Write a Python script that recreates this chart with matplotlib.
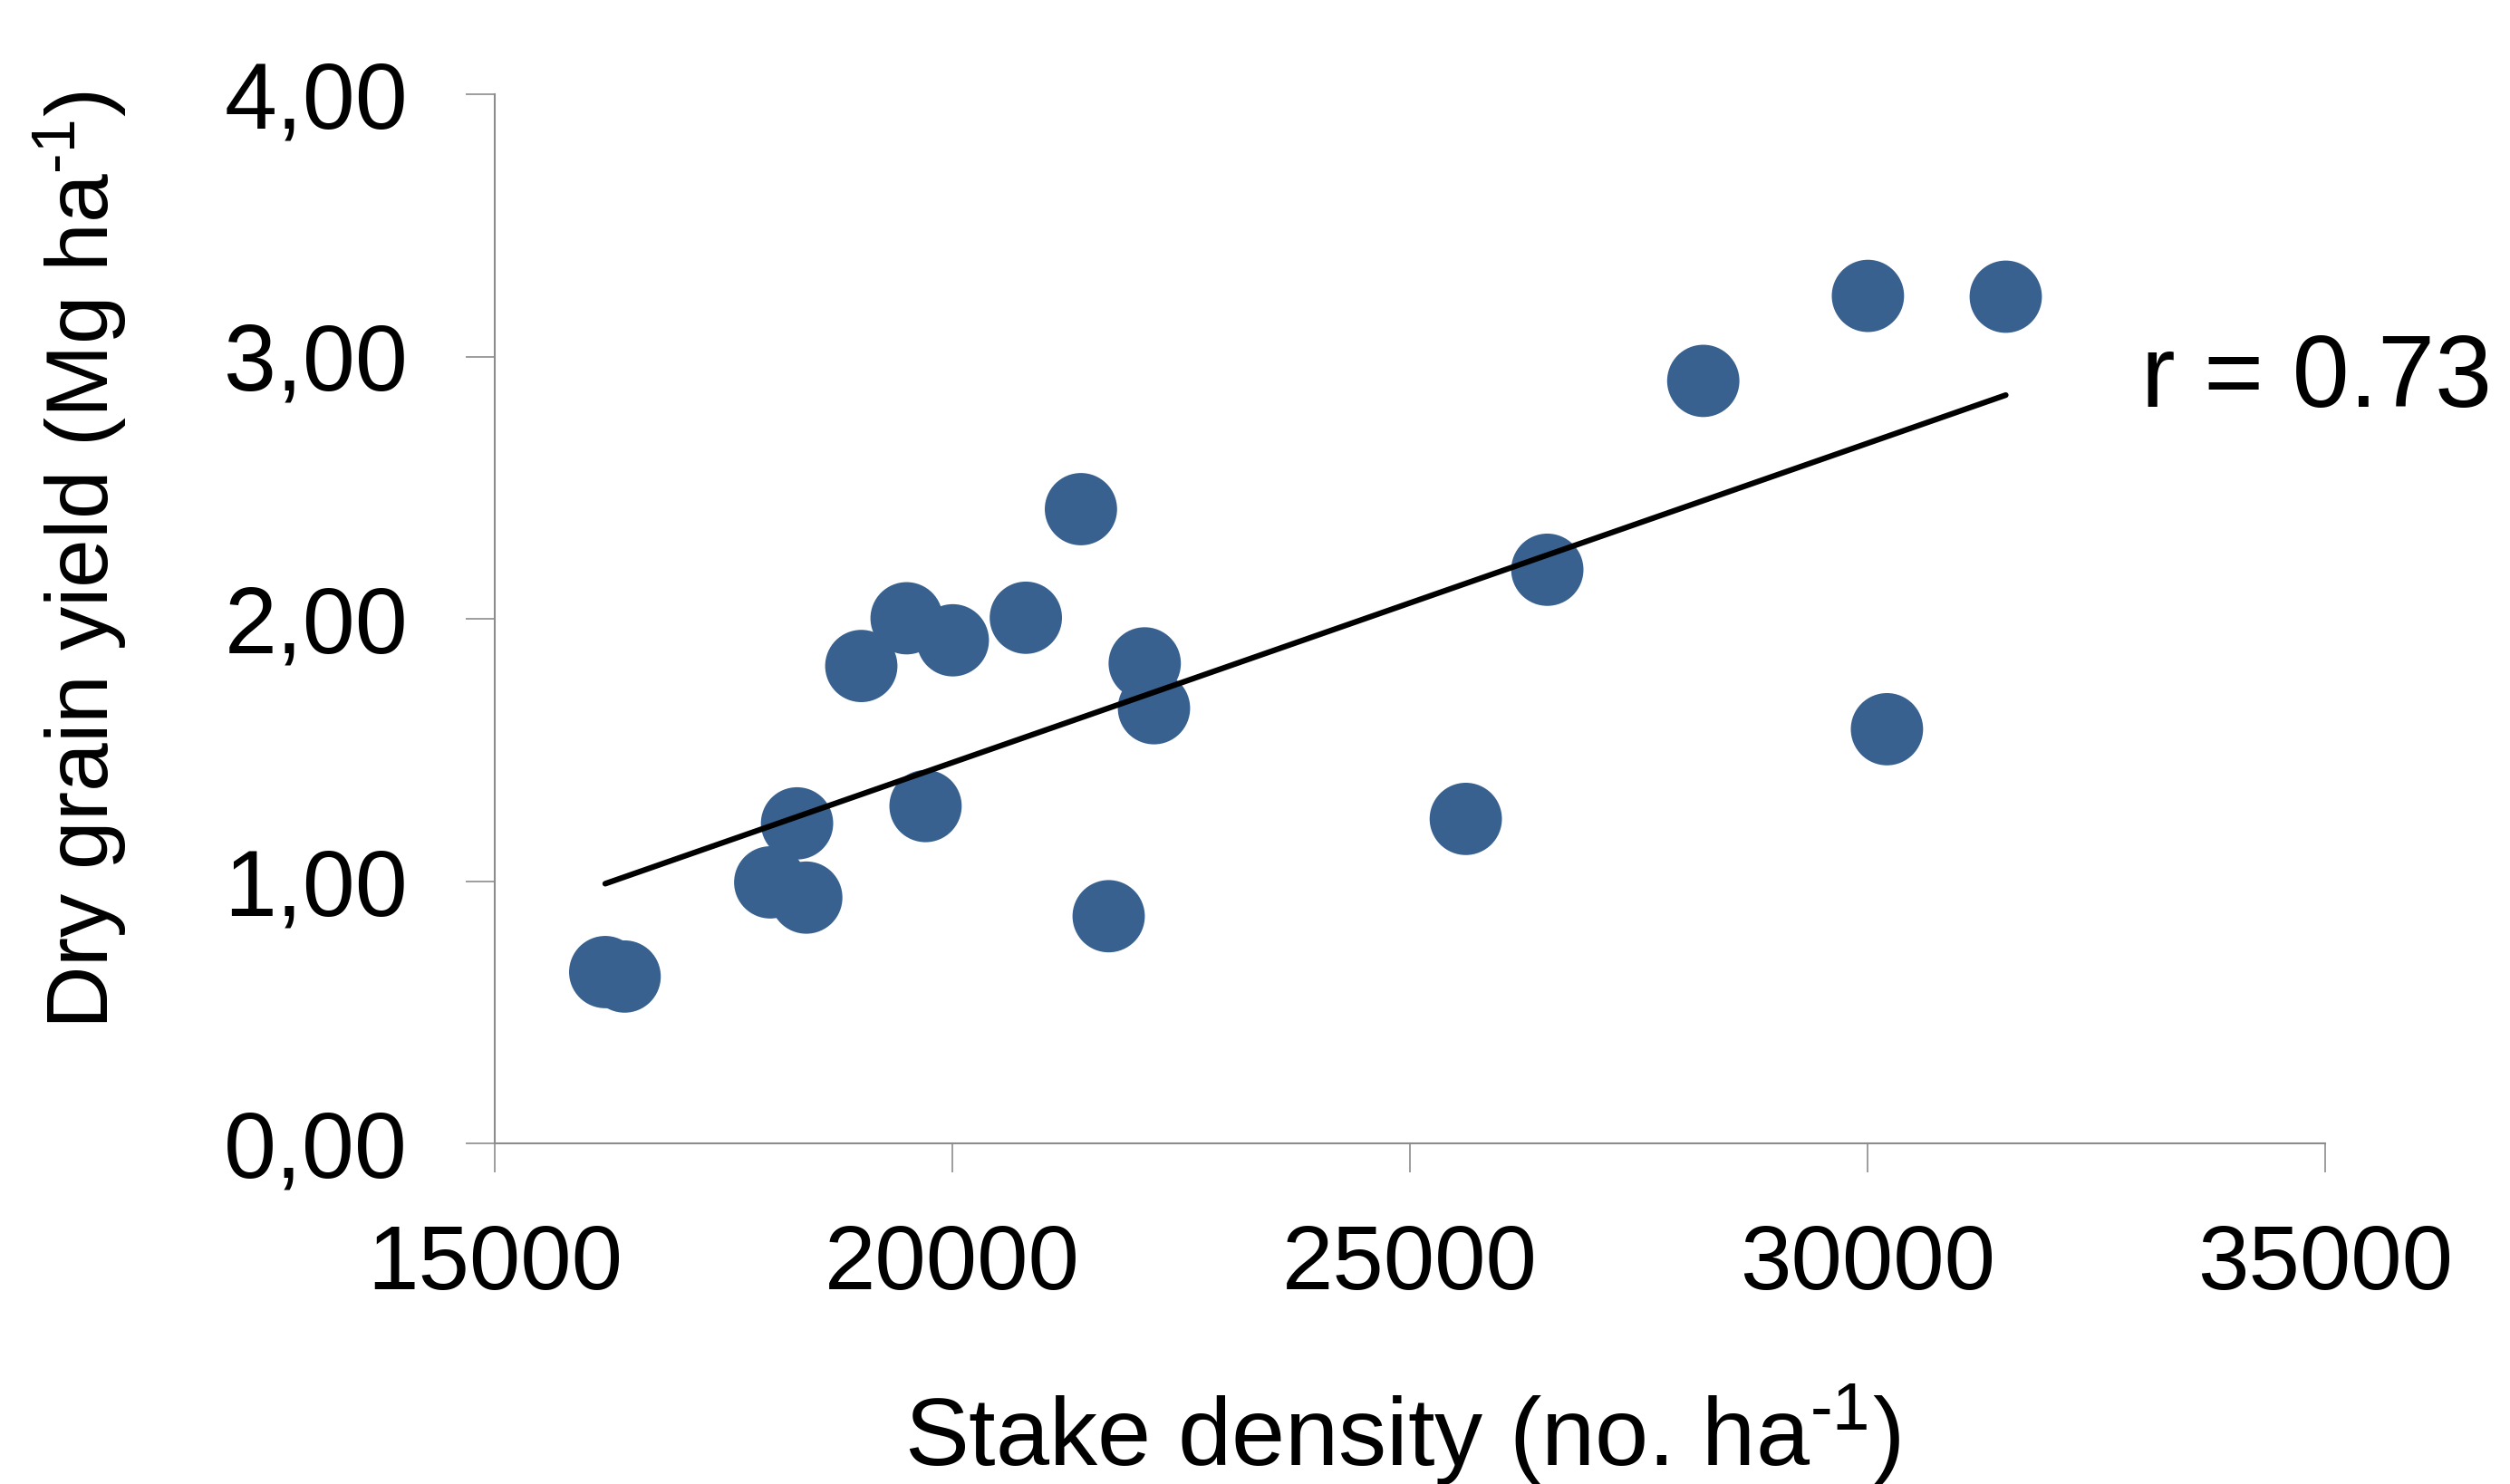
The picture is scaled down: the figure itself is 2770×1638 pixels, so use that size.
import matplotlib
matplotlib.use("Agg")
import matplotlib.pyplot as plt
import numpy as np

plt.rcParams["font.family"] = ["Liberation Sans", "DejaVu Sans"]
plt.rcParams["mathtext.fontset"] = "custom"
plt.rcParams["mathtext.rm"] = "Liberation Sans"
plt.rcParams["mathtext.default"] = "regular"

# stake density (no. ha-1) and dry grain yield (Mg ha-1)
density = [16207, 16419, 18303, 18010, 18404, 19005, 19500, 20005, 20803, 21405,
           19707, 22102, 22203, 21708, 30004, 31510, 28205, 26501, 30212, 25610]
grain_yield = [0.653, 0.636, 1.220, 0.995, 0.937, 1.820, 2.002, 1.918, 2.004, 2.418,
               1.286, 1.830, 1.659, 0.866, 3.231, 3.228, 2.907, 2.187, 1.579, 1.237]

xticks = [15000, 20000, 25000, 30000, 35000]
yticks = [0, 1, 2, 3, 4]
ytick_labels = ["0,00", "1,00", "2,00", "3,00", "4,00"]
r_value = 0.73

W, H = 2770, 1638
fig = plt.figure(figsize=(W / 100, H / 100), dpi=100)
ax = fig.add_axes([546 / W, 1 - 1262 / H, (2566 - 546) / W, (1262 - 104) / H])

x = np.array(density)
y = np.array(grain_yield)
ax.scatter(x, y, s=3300, color="#386190", edgecolors="none", zorder=2)

slope, icpt = np.polyfit(x, y, 1)
xs = np.array([x.min(), x.max()])
ax.plot(xs, slope * xs + icpt, color="black", lw=4.5, solid_capstyle="round", zorder=3)

ax.set_xlim(15000, 35000)
ax.set_ylim(0, 4)
ax.set_xticks(xticks)
ax.set_xticklabels([str(t) for t in xticks])
ax.set_yticks(yticks)
ax.set_yticklabels(ytick_labels)

for side in ["top", "right"]:
    ax.spines[side].set_visible(False)
for side in ["left", "bottom"]:
    ax.spines[side].set_color("#8c8c8c")
    ax.spines[side].set_linewidth(1.5)

ax.tick_params(axis="both", direction="out", length=23, width=1.2, color="#8c8c8c")
ax.tick_params(axis="y", pad=46, labelsize=75)
ax.tick_params(axis="x", pad=40, labelsize=73)

fig.text(0.5585, 0.012, r"Stake density (no. ha$^{\text{-1}}$)", fontsize=76.5,
         ha="center", va="baseline")
fig.text(0.032, 0.6227, r"Dry grain yield (Mg ha$^{\text{-1}}$)", fontsize=69.5,
         rotation=90, ha="center", va="center")
fig.text(2363 / W, 1 - 449 / H, "r = {:.2f}".format(r_value), fontsize=81.5,
         ha="left", va="baseline")

fig.savefig("out.png", dpi=100)
